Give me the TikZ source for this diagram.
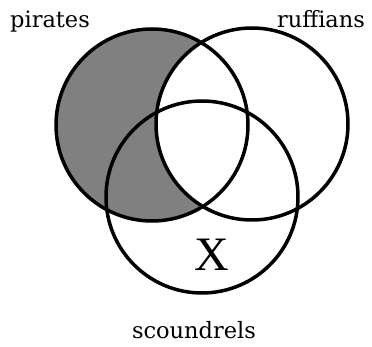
\documentclass[tikz,border=0pt]{standalone}
\usepackage{fontspec}
\setmainfont{DejaVu Serif}
\newfontfamily\xfont{Liberation Serif}
\usetikzlibrary{positioning}

\begin{document}
\begin{tikzpicture}[x=1pt, y=-1pt,
  venn/.style={circle, draw, line width=3.5pt, minimum size=192pt, inner sep=0pt},
  setlabel/.style={anchor=base, inner sep=0pt, font=\fontsize{22.5}{24}\selectfont}]

\useasboundingbox (0,0) rectangle (372,347);

%osjencani dio: pirati bez razbojnika
\fill[black!50] (152,125) circle (96);
\fill[white] (252,124) circle (96);

%tri kruga
\node[venn] (pirates) at (152,125) {};
\node[venn] (ruffians) at (252,124) {};
\node[venn] (scoundrels) at (202,197) {};

%oznake skupova
\node[setlabel] (lpirates) at (50,28) {pirates};
\node[setlabel] (lruffians) at (321,28) {ruffians};
\node[setlabel] (lscoundrels) at (194,338) {scoundrels};

%element
\node[font=\xfont\fontsize{48}{50}\selectfont, inner sep=0pt] (x) at (212,255) {X};

\end{tikzpicture}
\end{document}
